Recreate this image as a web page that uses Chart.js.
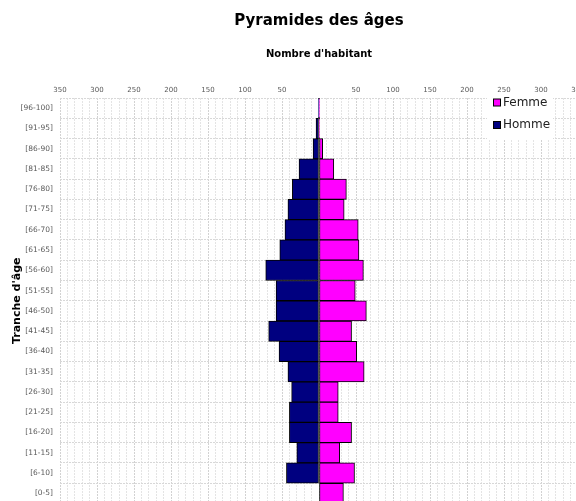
<!DOCTYPE html>
<html lang="fr">
<head>
<meta charset="utf-8">
<title>Pyramides des âges</title>
<script src="https://cdn.jsdelivr.net/npm/chart.js@4"></script>
<style>
  html, body { margin: 0; padding: 0; background: #fff; overflow: hidden; }
  #wrap { position: relative; width: 600px; height: 515px; }
</style>
</head>
<body>
<div id="wrap"><canvas id="pyramide"></canvas></div>
<script>
// tranches d'âge, du haut vers le bas
const trancheAge = ['[96-100]', '[91-95]', '[86-90]', '[81-85]', '[76-80]', '[71-75]', '[66-70]',
  '[61-65]', '[56-60]', '[51-55]', '[46-50]', '[41-45]', '[36-40]', '[31-35]', '[26-30]',
  '[21-25]', '[16-20]', '[11-15]', '[6-10]', '[0-5]'];

// nombre d'habitants
const femmes = [1, 1, 5, 20, 37, 34, 53, 54, 60, 49, 64, 44, 51, 61, 26, 26, 44, 28, 48, 33];
const hommes = [1, 4, 8, 27, 36, 42, 46, 53, 72, 58, 58, 68, 54, 42, 37, 40, 40, 30, 44, 0];

// graduations de l'axe horizontal
const axeMax = 350;
const pasGrille = 10;
const pasLibelle = 50;

const police = "'DejaVu Sans', Verdana, sans-serif";

// légende encadrée en haut à droite, par-dessus la grille
const legendeBoite = {
  id: 'legendeBoite',
  afterDraw(chart) {
    const { ctx, chartArea } = chart;
    const x = chartArea.right - 91;
    const y = chartArea.top;
    ctx.save();
    ctx.fillStyle = '#ffffff';
    ctx.fillRect(x, y, 66, 41);
    ctx.font = '12px ' + police;
    ctx.textBaseline = 'middle';
    chart.data.datasets.forEach((ds, i) => {
      const cy = y + 4.5 + i * 22.5;
      ctx.fillStyle = ds.backgroundColor;
      ctx.fillRect(x + 6.5, cy - 3.5, 7, 7);
      ctx.strokeStyle = '#000';
      ctx.lineWidth = 1;
      ctx.strokeRect(x + 6.5, cy - 3.5, 7, 7);
      ctx.fillStyle = '#222';
      ctx.fillText(ds.label, x + 16, cy);
    });
    ctx.restore();
  }
};

const ctx = document.getElementById('pyramide').getContext('2d');

new Chart(ctx, {
  type: 'bar',
  data: {
    labels: trancheAge,
    datasets: [
      {
        label: 'Femme',
        data: femmes,
        backgroundColor: '#ff00ff',
        borderColor: '#000000',
        borderWidth: 1,
        borderSkipped: false
      },
      {
        label: 'Homme',
        data: hommes.map((v) => -v), // côté gauche
        backgroundColor: '#000080',
        borderColor: '#000000',
        borderWidth: 1,
        borderSkipped: false
      }
    ]
  },
  options: {
    indexAxis: 'y',
    responsive: true,
    maintainAspectRatio: false,
    animation: false,
    layout: { padding: { left: 0, right: 22, top: 0, bottom: 2 } },
    datasets: { bar: { barPercentage: 1, categoryPercentage: 1 } },
    scales: {
      x: {
        position: 'top',
        stacked: true,
        min: -axeMax,
        max: axeMax,
        afterFit: (s) => { s.height = 68; },
        title: {
          display: true,
          text: "Nombre d'habitant",
          color: '#000',
          font: { family: police, size: 10, weight: 'bold' },
          padding: { top: 18, bottom: 0 }
        },
        ticks: {
          stepSize: pasGrille,
          autoSkip: false,
          maxRotation: 0,
          color: '#595959',
          font: { family: police, size: 7 },
          padding: 4,
          callback: (v) => (v !== 0 && v % pasLibelle === 0 ? Math.abs(v) : '')
        },
        grid: {
          drawTicks: false,
          color: (c) => (c.tick && c.tick.value % pasLibelle === 0 ? '#d2d2d2' : '#e4e4e4')
        },
        border: { display: false, dash: [2, 1] }
      },
      y: {
        stacked: true,
        afterFit: (s) => { s.width = 60; },
        title: {
          display: true,
          text: "Tranche d'âge",
          color: '#000',
          font: { family: police, size: 11, weight: 'bold' },
          padding: { top: 11, bottom: 0 }
        },
        ticks: {
          color: '#595959',
          font: { family: police, size: 7.5 },
          padding: 7
        },
        grid: { drawTicks: false, color: '#d8d8d8' },
        border: { display: false, dash: [2, 1] }
      }
    },
    plugins: {
      legend: { display: false },
      tooltip: { enabled: false },
      title: {
        display: true,
        text: 'Pyramides des âges',
        color: '#000',
        fullSize: false,
        font: { family: police, size: 15, weight: 'bold' },
        padding: { top: 12, bottom: 0 }
      }
    }
  },
  plugins: [legendeBoite]
});
</script>
</body>
</html>
